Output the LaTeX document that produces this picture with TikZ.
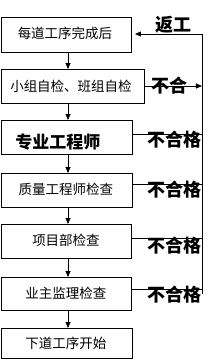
\documentclass[tikz,border=0pt]{standalone}
\usepackage{fontspec}
\newfontfamily\cjk{Noto Sans CJK SC}
\usetikzlibrary{arrows.meta,calc}
\begin{document}
\begin{tikzpicture}[x=1pt,y=-1pt,
  box/.style={draw=black,line width=0.9pt},
  boxtext/.style={font=\cjk\fontsize{13.5}{14}\selectfont,inner sep=0pt},
  lbl/.style={font=\cjk\bfseries\fontsize{18}{18}\selectfont,inner sep=0pt},
  conn/.style={draw=black,line width=0.9pt},
  arr/.style={conn,-{Triangle[length=6pt,width=5pt]}}]
\useasboundingbox (0,0) rectangle (214,360);
% boxes
\draw[box] (1,17) rectangle (131,52);
\draw[box] (1,69) rectangle (144,103);
\draw[box] (1,120) rectangle (132,154);
\draw[box] (1,173) rectangle (132,207);
\draw[box] (1,224) rectangle (131,258);
\draw[box] (1,277) rectangle (131,310);
\draw[box] (1,328) rectangle (132,358);
% box texts
\node[boxtext] (t1) at (65,33) {每道工序完成后};
\node[boxtext] (t2) at (71,86) {小组自检、班组自检};
\node[font=\cjk\bfseries\fontsize{17}{17}\selectfont,inner sep=0pt] (t3) at (58,142) {专业工程师};
\node[boxtext] (t4) at (66,189) {质量工程师检查};
\node[boxtext] (t5) at (66,240) {项目部检查};
\node[boxtext] (t6) at (66,293) {业主监理检查};
\node[boxtext] (t7) at (66,343) {下道工序开始};
% named anchor coordinates
\coordinate (b1s) at (68,52); \coordinate (b2n) at (68,69);
\coordinate (b2s) at (68,103); \coordinate (b3n) at (68,120);
\coordinate (b3s) at (68,154); \coordinate (b4n) at (68,173);
\coordinate (b4s) at (68,207); \coordinate (b5n) at (68,224);
\coordinate (b5s) at (68,258); \coordinate (b6n) at (68,277);
\coordinate (b6s) at (68,310); \coordinate (b7n) at (68,328);
\draw[arr] (b1s) -- (b2n);
\draw[arr] (b2s) -- (b3n);
\draw[arr] (b3s) -- (b4n);
\draw[arr] (b4s) -- (b5n);
\draw[arr] (b5s) -- (b6n);
\draw[arr] (b6s) -- (b7n);
% return loop
\coordinate (rtop) at (202,34);
\coordinate (rbot) at (202,294);
\coordinate (b1e) at (135,34);
\draw[conn] (rtop) -- (rbot);
\draw[arr] (rtop) -- (b1e);
\node[lbl] (fg) at (174,25) {返工};
\coordinate (b2e) at (144,86); \coordinate (r2) at (202,86);
\draw[arr] (b2e) -- (r2);
\node[lbl] (bh) at (170,86) {不合};
\coordinate (b3e) at (132,134); \coordinate (r3) at (202,134);
\draw[conn] (b3e) -- (r3);
\node[lbl] (bhg3) at (174.5,140) {不合格};
\coordinate (b4e) at (132,184); \coordinate (r4) at (202,184);
\draw[conn] (b4e) -- (r4);
\node[lbl] (bhg4) at (174.5,190) {不合格};
\coordinate (b5e) at (131,238); \coordinate (r5) at (202,238);
\draw[conn] (b5e) -- (r5);
\node[lbl] (bhg5) at (174.5,246) {不合格};
\coordinate (b6e) at (131,289); \coordinate (r6) at (202,289);
\draw[conn] (b6e) -- (r6);
\node[lbl] (bhg6) at (174.5,295) {不合格};
\end{tikzpicture}
\end{document}
